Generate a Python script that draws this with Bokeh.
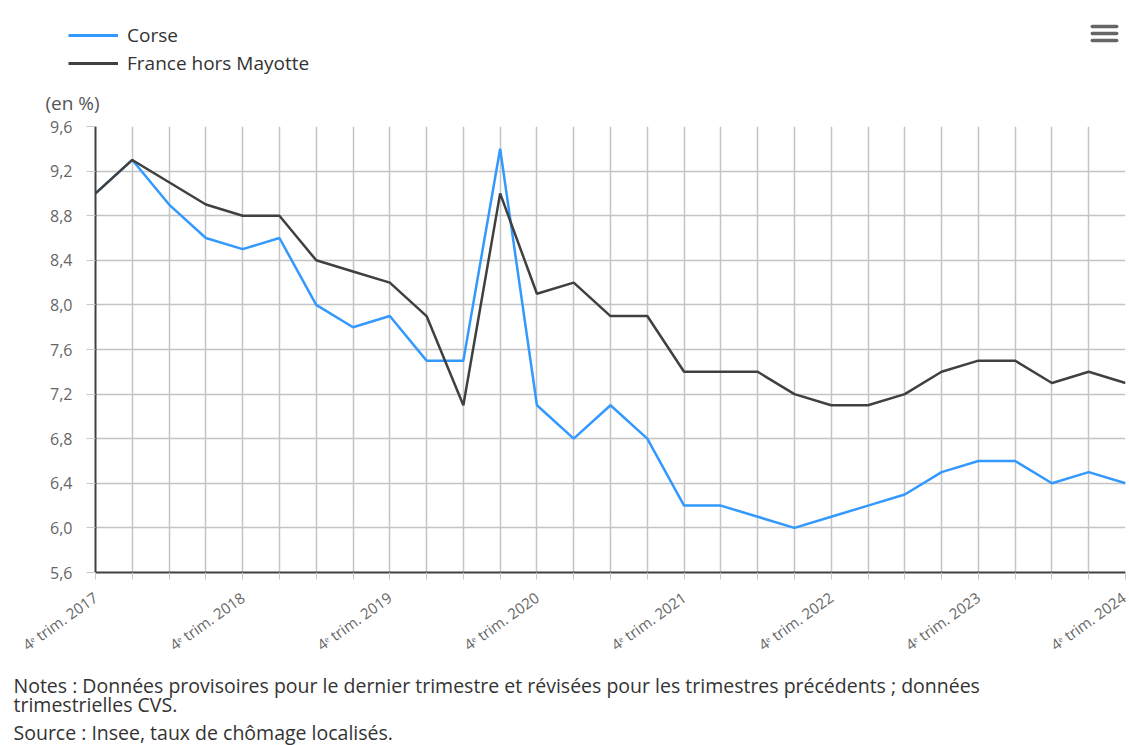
import math
from bokeh.plotting import figure
from bokeh.layouts import column
from bokeh.models import (Range1d, FixedTicker, Legend, LegendItem, Label, BoxAnnotation,
                          ColumnDataSource)
from bokeh.embed import file_html
from bokeh.resources import INLINE

# ---- data ----
quarters = list(range(29))  # 4e trim. 2017 ... 4e trim. 2024
corse = [9.0, 9.3, 8.9, 8.6, 8.5, 8.6, 8.0, 7.8, 7.9, 7.5, 7.5, 9.4, 7.1, 6.8, 7.1,
         6.8, 6.2, 6.2, 6.1, 6.0, 6.1, 6.2, 6.3, 6.5, 6.6, 6.6, 6.4, 6.5, 6.4]
france = [9.0, 9.3, 9.1, 8.9, 8.8, 8.8, 8.4, 8.3, 8.2, 7.9, 7.1, 9.0, 8.1, 8.2, 7.9,
          7.9, 7.4, 7.4, 7.4, 7.2, 7.1, 7.1, 7.2, 7.4, 7.5, 7.5, 7.3, 7.4, 7.3]
year_labels = ["4\u1d49 trim. 2017", "4\u1d49 trim. 2018", "4\u1d49 trim. 2019", "4\u1d49 trim. 2020",
               "4\u1d49 trim. 2021", "4\u1d49 trim. 2022", "4\u1d49 trim. 2023", "4\u1d49 trim. 2024"]
y_ticks = [5.6, 6.0, 6.4, 6.8, 7.2, 7.6, 8.0, 8.4, 8.8, 9.2, 9.6]
y_tick_labels = ["5,6", "6,0", "6,4", "6,8", "7,2", "7,6", "8,0", "8,4", "8,8", "9,2", "9,6"]
series_names = ["Corse", "France hors Mayotte"]
series_colors = ["#3399ff", "#404040"]
unit_text = "(en %)"
notes_text = ["Notes : Données provisoires pour le dernier trimestre et révisées pour les trimestres précédents ; données",
              "trimestrielles CVS.",
              "Source : Insee, taux de chômage localisés."]

FONT = "Open Sans"
W = 1129
H_TOP, H_MAIN, H_BOT = 115, 551, 79


def bare(h):
    f = figure(width=W, height=h, output_backend="svg", toolbar_location=None,
               x_axis_location=None, y_axis_location=None,
               x_range=Range1d(0, 1), y_range=Range1d(0, 1),
               min_border=0, min_border_left=0, min_border_right=0,
               min_border_top=0, min_border_bottom=0)
    f.frame_align = False
    f.outline_line_color = None
    f.grid.visible = False
    f.background_fill_color = "white"
    f.border_fill_color = "white"
    return f


# ---- top: legend, unit, menu icon ----
top = bare(H_TOP)
lsrc = ColumnDataSource(dict(x=quarters, corse=corse, france=france))
d1 = top.line("x", "corse", source=lsrc, line_color=series_colors[0], line_width=3)
d2 = top.line("x", "france", source=lsrc, line_color=series_colors[1], line_width=3)
legend = Legend(items=[LegendItem(label=series_names[0], renderers=[d1]),
                       LegendItem(label=series_names[1], renderers=[d2])],
                location=(68, 39), orientation="vertical",
                glyph_width=50, glyph_height=20, label_height=20, spacing=2,
                padding=0, margin=0, border_line_color=None, background_fill_alpha=0,
                label_text_font=FONT, label_text_font_size="19px", label_text_color="#333333",
                label_standoff=9)
top.add_layout(legend, "center")
top.add_layout(Label(x=45, y=13, x_units="screen", y_units="screen", text=unit_text,
                     text_font=FONT, text_font_size="19px", text_color="#555555",
                     text_baseline="middle", text_align="left"))
# menu icon (three rounded bars)
for yc in [89, 82, 75]:
    top.add_layout(BoxAnnotation(left=1090, right=1118, bottom=yc - 1.75, top=yc + 1.75,
                                 left_units="screen", right_units="screen",
                                 bottom_units="screen", top_units="screen",
                                 fill_color="#666666", fill_alpha=1, line_color=None,
                                 border_radius=2))

# ---- main chart ----
p = figure(width=W, height=H_MAIN, output_backend="svg", toolbar_location=None,
           x_range=Range1d(0, 28), y_range=Range1d(5.6, 9.6),
           min_border_left=95, min_border_right=4, min_border_top=11, min_border_bottom=94)
p.frame_align = False
p.outline_line_color = None
p.background_fill_color = "white"
p.border_fill_color = "white"

src = ColumnDataSource(dict(x=quarters, corse=corse, france=france))
p.line("x", "corse", source=src, line_color=series_colors[0], line_width=2.5)
p.line("x", "france", source=src, line_color=series_colors[1], line_width=2.5)

p.xaxis.ticker = FixedTicker(ticks=quarters, minor_ticks=[])
p.xaxis.major_label_overrides = {q: (year_labels[q // 4] if q % 4 == 0 else "") for q in quarters}
p.xaxis.major_label_orientation = 0.62
p.xaxis.major_label_text_font = FONT
p.xaxis.major_label_text_font_size = "15px"
p.xaxis.major_label_text_color = "#666666"
p.xaxis.major_label_standoff = 16
p.xaxis.axis_line_color = "#404040"
p.xaxis.axis_line_width = 2
p.xaxis.major_tick_line_color = "#c8c8c8"
p.xaxis.major_tick_out = 7
p.xaxis.major_tick_in = 0
p.xaxis.minor_tick_line_color = None

p.yaxis.ticker = FixedTicker(ticks=y_ticks, minor_ticks=[])
p.yaxis.major_label_overrides = {t: l for t, l in zip(y_ticks, y_tick_labels)}
p.yaxis.major_label_text_font = FONT
p.yaxis.major_label_text_font_size = "16px"
p.yaxis.major_label_text_color = "#666666"
p.yaxis.major_label_standoff = 14
p.yaxis.axis_line_color = "#404040"
p.yaxis.axis_line_width = 2
p.yaxis.major_tick_line_color = "#c8c8c8"
p.yaxis.major_tick_out = 9
p.yaxis.major_tick_in = 0
p.yaxis.minor_tick_line_color = None

p.xgrid.grid_line_color = "#c4c4c4"
p.xgrid.grid_line_width = 1.5
p.ygrid.grid_line_color = "#c4c4c4"
p.ygrid.grid_line_width = 1.5

# ---- bottom: notes ----
bot = bare(H_BOT)
for txt, yy in zip(notes_text, [60, 41, 13]):
    bot.add_layout(Label(x=13, y=yy, x_units="screen", y_units="screen", text=txt,
                         text_font=FONT, text_font_size="19.5px", text_color="#333333",
                         text_baseline="alphabetic", text_align="left"))

layout = column(top, p, bot, spacing=0)
open("out.html", "w").write(file_html(layout, INLINE))
